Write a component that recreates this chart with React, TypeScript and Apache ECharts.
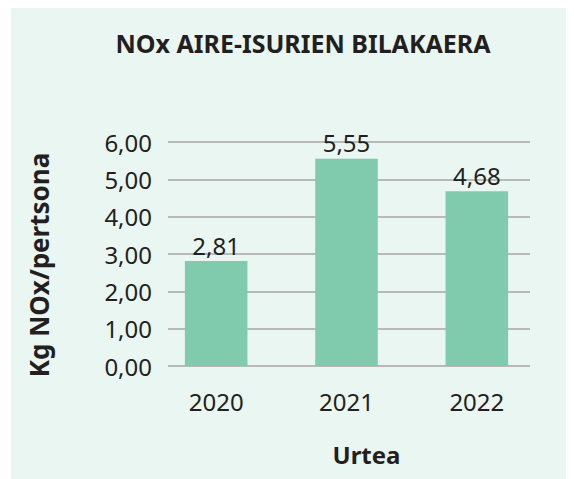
import React, { useEffect, useRef } from "react";
import * as echarts from "echarts";

const years = ["2020", "2021", "2022"];
const values = [2.81, 5.55, 4.68];
const yTicks = { min: 0, max: 6, interval: 1 };

const fmt = (v: number) => v.toFixed(2).replace(".", ",");

export default function App() {
  const ref = useRef<HTMLDivElement>(null);
  useEffect(() => {
    if (!ref.current) return;
    const chart = echarts.init(ref.current, undefined, { renderer: "svg" });
    const font = "'Noto Sans', sans-serif";
    const dark = "#231f20";
    chart.setOption({
      animation: false,
      backgroundColor: "#e9f6f2",
      title: {
        text: "NOx AIRE-ISURIEN BILAKAERA",
        left: 287,
        top: 17,
        textAlign: "center",
        textStyle: { fontFamily: font, fontSize: 25, fontWeight: "bold", color: dark },
      },
      grid: [
        { left: 157, right: 44, top: 134, bottom: 113 },
        { left: 140, right: 32, top: 134, bottom: 113 },
      ],
      xAxis: [
        {
          gridIndex: 0,
          type: "category",
          data: years,
          show: false,
        },
        {
          gridIndex: 1,
          type: "category",
          data: years,
          name: "Urtea",
          nameLocation: "middle",
          nameGap: 76,
          nameTextStyle: { fontFamily: font, fontSize: 24, fontWeight: "bold", color: dark, padding: [0, 0, 0, 40] },
          axisLine: { show: false },
          axisTick: { show: false },
          axisLabel: { margin: 23, fontFamily: font, fontSize: 24, color: dark },
        },
      ],
      yAxis: [
        {
          gridIndex: 0,
          type: "value",
          min: yTicks.min,
          max: yTicks.max,
          interval: yTicks.interval,
          name: "Kg NOx/pertsona",
          nameLocation: "middle",
          nameGap: 116,
          nameTextStyle: { fontFamily: font, fontSize: 26, fontWeight: "bold", color: dark, padding: [0, 22, 0, 0] },
          axisLine: { show: false },
          axisTick: { show: false },
          axisLabel: { margin: 16, fontFamily: font, fontSize: 24, color: dark, formatter: (v: number) => fmt(v) },
          splitLine: { lineStyle: { color: "#a6a6a6", width: 1.5 } },
        },
        {
          gridIndex: 1,
          type: "value",
          min: yTicks.min,
          max: yTicks.max,
          interval: yTicks.interval,
          show: false,
          splitLine: { show: false },
        },
      ],
      series: [
        {
          type: "bar",
          xAxisIndex: 1,
          yAxisIndex: 1,
          data: values,
          barWidth: "48%",
          itemStyle: { color: "#80cbae" },
          label: {
            show: true,
            position: "top",
            distance: 4,
            fontFamily: font,
            fontSize: 24,
            color: dark,
            formatter: (p: any) => fmt(p.value),
          },
        },
      ],
    });
    return () => chart.dispose();
  }, []);
  return <div ref={ref} style={{ width: 563, height: 471, marginLeft: 3 }} />;
}
